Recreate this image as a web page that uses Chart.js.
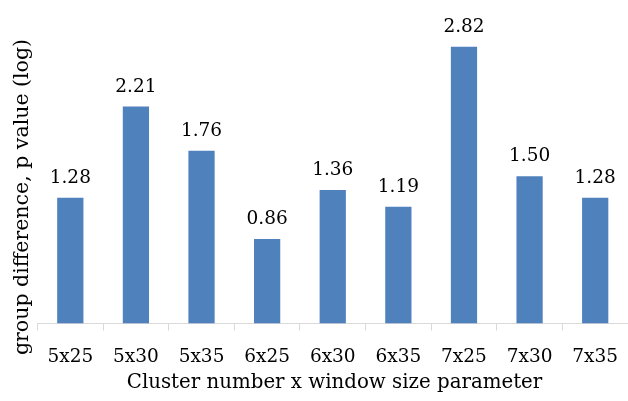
<!DOCTYPE html>
<html>
<head>
<meta charset="utf-8">
<script src="https://cdn.jsdelivr.net/npm/chart.js@4/dist/chart.umd.min.js"></script>
<style>
  html, body { margin: 0; padding: 0; background: #fff; }
  #wrap { width: 628px; height: 401px; position: relative; }
</style>
</head>
<body>
<div id="wrap"><canvas id="chart" width="628" height="401"></canvas></div>
<script>
// Window-size parameter combinations and their group-difference p values (log)
const categories = ['5x25', '5x30', '5x35', '6x25', '6x30', '6x35', '7x25', '7x30', '7x35'];
const pValues = [1.28, 2.21, 1.76, 0.86, 1.36, 1.19, 2.82, 1.50, 1.28];
const yTitle = 'group difference, p value (log)';
const xTitle = 'Cluster number x window size parameter';

const FONT = "'DejaVu Serif', serif";

// Value labels above each bar plus both axis titles
const annotate = {
  id: 'annotate',
  afterDatasetsDraw(chart) {
    const ctx = chart.ctx;
    const meta = chart.getDatasetMeta(0);
    ctx.save();
    ctx.fillStyle = '#000';
    ctx.font = '18.5px ' + FONT;
    ctx.textAlign = 'center';
    ctx.textBaseline = 'alphabetic';
    meta.data.forEach((bar, i) => {
      ctx.fillText(pValues[i].toFixed(2), bar.x, bar.y - 15);
    });
    ctx.restore();

    // x-axis title, centred under the plot
    ctx.save();
    ctx.fillStyle = '#000';
    ctx.font = '19.8px ' + FONT;
    ctx.textAlign = 'center';
    ctx.textBaseline = 'alphabetic';
    ctx.fillText(xTitle, 334.5, 388);
    ctx.restore();

    // rotated y-axis title
    ctx.save();
    ctx.fillStyle = '#000';
    ctx.font = '20.5px ' + FONT;
    ctx.translate(27.5, 197);
    ctx.rotate(-Math.PI / 2);
    ctx.textAlign = 'center';
    ctx.textBaseline = 'alphabetic';
    ctx.fillText(yTitle, 0, 0);
    ctx.restore();
  }
};

new Chart(document.getElementById('chart'), {
  type: 'bar',
  data: {
    labels: categories,
    datasets: [{
      data: pValues,
      backgroundColor: '#4f81bd',
      borderWidth: 0,
      barPercentage: 0.4,
      categoryPercentage: 1.0
    }]
  },
  options: {
    responsive: false,
    animation: false,
    layout: { padding: { top: 29, left: 37.5, right: 0, bottom: 0 } },
    plugins: {
      legend: { display: false },
      tooltip: { enabled: false }
    },
    scales: {
      x: {
        grid: {
          display: true,
          drawOnChartArea: false,
          drawTicks: true,
          tickLength: 7,
          color: '#d9d9d9',
          offset: true
        },
        border: { display: true, color: '#d9d9d9', width: 1 },
        ticks: {
          color: '#000',
          font: { family: FONT, size: 18.5 },
          padding: 16,
          maxRotation: 0,
          autoSkip: false
        },
        title: { display: false },
        afterFit(scale) {
          // the axis runs the full width to the right edge
          scale.height = 77.5;
          scale.paddingLeft = 0;
          scale.paddingRight = 0;
        }
      },
      y: {
        display: false,
        min: 0,
        max: 3
      }
    }
  },
  plugins: [annotate]
});
</script>
</body>
</html>
